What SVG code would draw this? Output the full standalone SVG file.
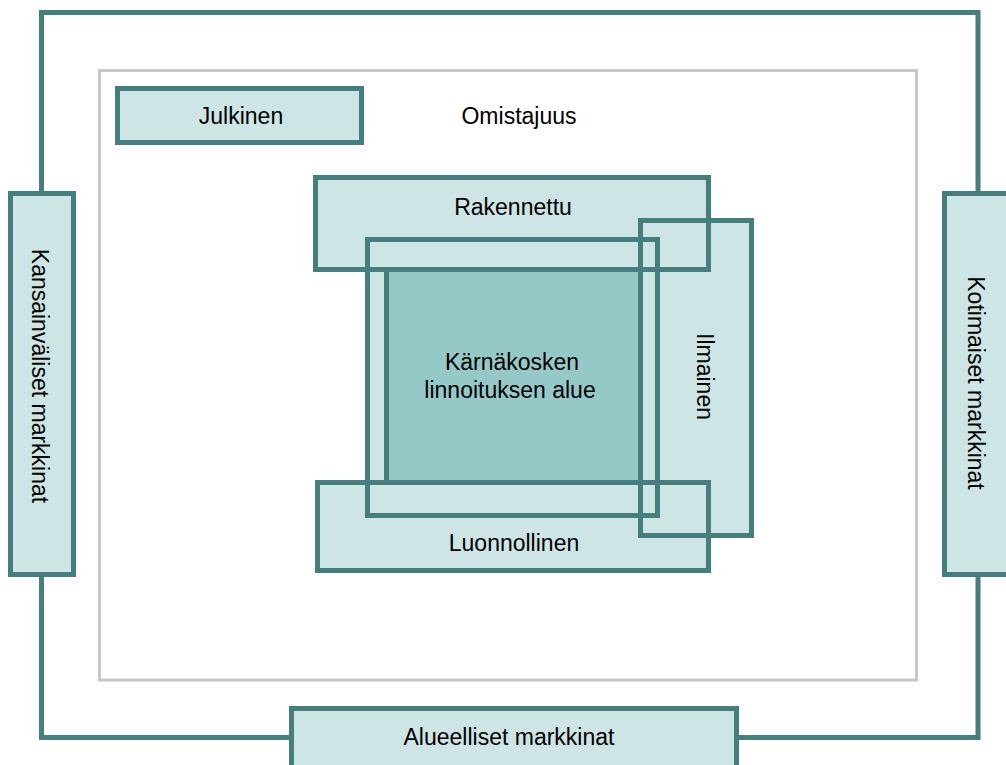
<svg xmlns="http://www.w3.org/2000/svg" xmlns:xlink="http://www.w3.org/1999/xlink" width="1006" height="765" viewBox="0 0 1006 765">
<style>
  .box { fill: #cde5e4; stroke: #457f7d; stroke-width: 5; }
  .fill { fill: #cde5e4; stroke: none; }
  .dark { fill: #95c9c7; stroke: none; }
  .outline { fill: none; stroke: #457f7d; stroke-width: 5; }
  .conn { fill: none; stroke: #457f7d; stroke-width: 5; stroke-linejoin: miter; }
  .frame { fill: none; stroke: #c8c8c8; stroke-width: 3; }
  text { font-family: "Liberation Sans", Arial, sans-serif; font-size: 23px; fill: #000; text-anchor: middle; }
</style>
<defs>
  <rect id="r-rak" x="315.5" y="177.5" width="393" height="92"/>
  <rect id="r-ilm" x="640.5" y="220.5" width="111" height="315"/>
  <rect id="r-mid" x="367.5" y="239.5" width="290" height="276"/>
  <rect id="r-core" x="386.5" y="269.5" width="254" height="213"/>
  <rect id="r-luo" x="317.5" y="482.5" width="391" height="88"/>
</defs>
<rect x="0" y="0" width="1006" height="765" fill="#ffffff"/>
<g id="connectors">
  <path class="conn" d="M41.5,193.5 V12.5 H978 V193.5"/>
  <path class="conn" d="M41.5,574.5 V737.5 H291.5"/>
  <path class="conn" d="M736.5,737.5 H978 V574.5"/>
</g>
<g id="omistajuus">
  <rect class="frame" x="99.5" y="70.5" width="817" height="609.5"/>
  <text x="519" y="124">Omistajuus</text>
</g>
<g id="julkinen">
  <rect class="box" x="117.5" y="88.5" width="244" height="54"/>
  <text x="241" y="124">Julkinen</text>
</g>
<g id="kansainvaliset">
  <rect class="box" x="10.5" y="193.5" width="63" height="381"/>
  <text transform="translate(32,376) rotate(90)">Kansainväliset markkinat</text>
</g>
<g id="kotimaiset">
  <rect class="box" x="944.5" y="193.5" width="66" height="381"/>
  <text transform="translate(968,383) rotate(90)">Kotimaiset markkinat</text>
</g>
<g id="alueelliset">
  <rect class="box" x="291.5" y="708.5" width="445" height="60"/>
  <text x="509" y="745">Alueelliset markkinat</text>
</g>
<g id="rakennettu">
  <use xlink:href="#r-rak" href="#r-rak" class="fill"/>
  <text x="513" y="215">Rakennettu</text>
</g>
<g id="ilmainen">
  <use xlink:href="#r-ilm" href="#r-ilm" class="fill"/>
  <text transform="translate(697,376.5) rotate(90)">Ilmainen</text>
</g>
<g id="luonnollinen">
  <use xlink:href="#r-luo" href="#r-luo" class="fill"/>
  <text x="514" y="551">Luonnollinen</text>
</g>
<g id="kehys">
  <use xlink:href="#r-mid" href="#r-mid" class="fill"/>
</g>
<g id="karnakoski">
  <use xlink:href="#r-core" href="#r-core" class="dark"/>
  <text x="512" y="370">Kärnäkosken</text>
  <text x="510" y="398">linnoituksen alue</text>
</g>
<g id="outlines">
  <use xlink:href="#r-rak" href="#r-rak" class="outline"/>
  <use xlink:href="#r-ilm" href="#r-ilm" class="outline"/>
  <use xlink:href="#r-luo" href="#r-luo" class="outline"/>
  <use xlink:href="#r-mid" href="#r-mid" class="outline"/>
  <use xlink:href="#r-core" href="#r-core" class="outline"/>
</g>
</svg>
